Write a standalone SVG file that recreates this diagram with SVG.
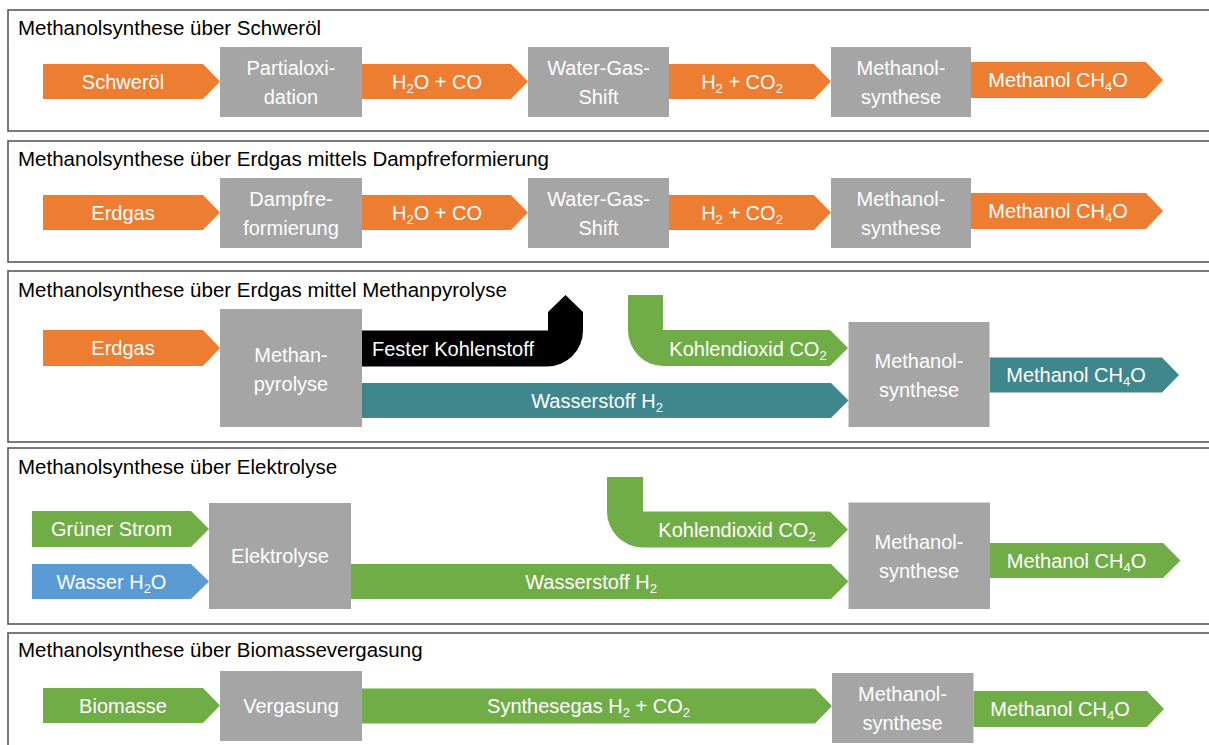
<svg xmlns="http://www.w3.org/2000/svg" width="1209" height="745" viewBox="0 0 1209 745">
<style>
.panel{fill:#fff;stroke:#595959;stroke-width:1.6}
.box{fill:#A5A5A5}
.or{fill:#ED7D31}
.gr{fill:#70AD47}
.te{fill:#40868D}
.bl{fill:#5B9BD5}
.bk{fill:#000}
.t{font-family:"Liberation Sans",Arial,sans-serif;font-size:20px;fill:#fff;text-anchor:middle}
.ttl{font-family:"Liberation Sans",Arial,sans-serif;font-size:20.5px;fill:#000}
.s{font-size:13px}
</style>
<rect width="1209" height="745" fill="#fff"/>
<g id="panels">
<g id="panel1"><rect class="panel" x="8" y="10" width="1210" height="121"/><text class="ttl" x="18" y="35">Methanolsynthese über Schweröl</text></g>
<g id="panel2"><rect class="panel" x="8" y="141" width="1210" height="121"/><text class="ttl" x="18" y="166">Methanolsynthese über Erdgas mittels Dampfreformierung</text></g>
<g id="panel3"><rect class="panel" x="8" y="271" width="1210" height="171"/><text class="ttl" x="18" y="297">Methanolsynthese über Erdgas mittel Methanpyrolyse</text></g>
<g id="panel4"><rect class="panel" x="8" y="448" width="1210" height="176"/><text class="ttl" x="18" y="474">Methanolsynthese über Elektrolyse</text></g>
<g id="panel5"><rect class="panel" x="8" y="633" width="1210" height="130"/><text class="ttl" x="18" y="657">Methanolsynthese über Biomassevergasung</text></g>
</g>
<g id="connectors">
<!-- Panel 1 -->
<g id="p1-schweroel"><path class="or" d="M43,64 H203 L220,81.5 L203,99 H43 Z"/><text class="t" x="123" y="88.5">Schweröl</text></g>
<g id="p1-h2o-co"><path class="or" d="M362,64 H511 L528,81.5 L511,99 H362 Z"/><text class="t" x="437" y="88.5">H<tspan class="s" dy="4">2</tspan><tspan dy="-4">O + CO</tspan></text></g>
<g id="p1-h2-co2"><path class="or" d="M669,64 H814 L831,81.5 L814,99 H669 Z"/><text class="t" x="742" y="88.5">H<tspan class="s" dy="4">2</tspan><tspan dy="-4"> + CO</tspan><tspan class="s" dy="4">2</tspan></text></g>
<g id="p1-methanol"><path class="or" d="M971,62 H1146 L1163,80 L1146,98 H971 Z"/><text class="t" x="1058" y="87">Methanol CH<tspan class="s" dy="4">4</tspan><tspan dy="-4">O</tspan></text></g>
<!-- Panel 2 -->
<g id="p2-erdgas"><path class="or" d="M43,195 H203 L220,212.5 L203,230 H43 Z"/><text class="t" x="123" y="219.5">Erdgas</text></g>
<g id="p2-h2o-co"><path class="or" d="M362,195 H511 L528,212.5 L511,230 H362 Z"/><text class="t" x="437" y="219.5">H<tspan class="s" dy="4">2</tspan><tspan dy="-4">O + CO</tspan></text></g>
<g id="p2-h2-co2"><path class="or" d="M669,195 H814 L831,212.5 L814,230 H669 Z"/><text class="t" x="742" y="219.5">H<tspan class="s" dy="4">2</tspan><tspan dy="-4"> + CO</tspan><tspan class="s" dy="4">2</tspan></text></g>
<g id="p2-methanol"><path class="or" d="M971,193 H1146 L1163,211 L1146,229 H971 Z"/><text class="t" x="1058" y="218">Methanol CH<tspan class="s" dy="4">4</tspan><tspan dy="-4">O</tspan></text></g>
<!-- Panel 3 -->
<g id="p3-erdgas"><path class="or" d="M43,330 H203 L220,348 L203,366 H43 Z"/><text class="t" x="123" y="355">Erdgas</text></g>
<g id="p3-kohlenstoff"><path class="bk" d="M362,330.5 H548 V312 L565.5,295 L583,312 V330.5 A36,36 0 0 1 547,366.5 H362 Z"/><text class="t" x="372" y="355.5" style="text-anchor:start">Fester Kohlenstoff</text></g>
<g id="p3-co2"><path class="gr" d="M628,295 H663 V330 H830 L848,348 L830,366 H663 A35,36 0 0 1 628,330 Z"/><text class="t" x="748" y="355.5">Kohlendioxid CO<tspan class="s" dy="4">2</tspan></text></g>
<g id="p3-h2"><path class="te" d="M362,383 H831 L848.5,400.5 L831,418 H362 Z"/><text class="t" x="597" y="407.5">Wasserstoff H<tspan class="s" dy="4">2</tspan></text></g>
<g id="p3-methanol"><path class="te" d="M989.5,357.5 H1162 L1179,375 L1162,392.5 H989.5 Z"/><text class="t" x="1076" y="382">Methanol CH<tspan class="s" dy="4">4</tspan><tspan dy="-4">O</tspan></text></g>
<!-- Panel 4 -->
<g id="p4-strom"><path class="gr" d="M32,511 H191 L209,529 L191,547 H32 Z"/><text class="t" x="111.5" y="536">Grüner Strom</text></g>
<g id="p4-wasser"><path class="bl" d="M32,564 H191 L209,581.5 L191,599 H32 Z"/><text class="t" x="111.5" y="588.5">Wasser H<tspan class="s" dy="4">2</tspan><tspan dy="-4">O</tspan></text></g>
<g id="p4-co2"><path class="gr" d="M607,477 H643 V511.5 H830 L848,529.5 L830,547.5 H643 A36,36 0 0 1 607,511.5 Z"/><text class="t" x="737" y="537">Kohlendioxid CO<tspan class="s" dy="4">2</tspan></text></g>
<g id="p4-h2"><path class="gr" d="M351,564 H831 L848.5,581.5 L831,599 H351 Z"/><text class="t" x="591" y="588.5">Wasserstoff H<tspan class="s" dy="4">2</tspan></text></g>
<g id="p4-methanol"><path class="gr" d="M990,543 H1163 L1180.5,560.5 L1163,578 H990 Z"/><text class="t" x="1076.5" y="567.5">Methanol CH<tspan class="s" dy="4">4</tspan><tspan dy="-4">O</tspan></text></g>
<!-- Panel 5 -->
<g id="p5-biomasse"><path class="gr" d="M43,688 H203 L220,705.5 L203,723 H43 Z"/><text class="t" x="123" y="712.5">Biomasse</text></g>
<g id="p5-synthesegas"><path class="gr" d="M362,688.5 H815 L832,706 L815,723.5 H362 Z"/><text class="t" x="588.5" y="713">Synthesegas H<tspan class="s" dy="4">2</tspan><tspan dy="-4"> + CO</tspan><tspan class="s" dy="4">2</tspan></text></g>
<g id="p5-methanol"><path class="gr" d="M973.5,691 H1147 L1164,709 L1147,727 H973.5 Z"/><text class="t" x="1060" y="716">Methanol CH<tspan class="s" dy="4">4</tspan><tspan dy="-4">O</tspan></text></g>
</g>
<g id="nodes">
<g id="p1-partialoxidation"><rect class="box" x="220" y="47" width="142" height="70"/><text class="t" x="291" y="74.5">Partialoxi-</text><text class="t" x="291" y="103.5">dation</text></g>
<g id="p1-watergasshift"><rect class="box" x="528" y="47" width="141" height="70"/><text class="t" x="598.5" y="74.5">Water-Gas-</text><text class="t" x="598.5" y="103.5">Shift</text></g>
<g id="p1-methanolsynthese"><rect class="box" x="831" y="47" width="140" height="70"/><text class="t" x="901" y="74.5">Methanol-</text><text class="t" x="901" y="103.5">synthese</text></g>
<g id="p2-dampfreformierung"><rect class="box" x="220" y="178" width="142" height="70"/><text class="t" x="291" y="205.5">Dampfre-</text><text class="t" x="291" y="234.5">formierung</text></g>
<g id="p2-watergasshift"><rect class="box" x="528" y="178" width="141" height="70"/><text class="t" x="598.5" y="205.5">Water-Gas-</text><text class="t" x="598.5" y="234.5">Shift</text></g>
<g id="p2-methanolsynthese"><rect class="box" x="831" y="178" width="140" height="70"/><text class="t" x="901" y="205.5">Methanol-</text><text class="t" x="901" y="234.5">synthese</text></g>
<g id="p3-methanpyrolyse"><rect class="box" x="220" y="309" width="142" height="118"/><text class="t" x="291" y="362">Methan-</text><text class="t" x="291" y="391">pyrolyse</text></g>
<g id="p3-methanolsynthese"><rect class="box" x="848.5" y="322" width="141" height="105"/><text class="t" x="919" y="368">Methanol-</text><text class="t" x="919" y="397">synthese</text></g>
<g id="p4-elektrolyse"><rect class="box" x="209" y="503" width="142" height="106"/><text class="t" x="280" y="563">Elektrolyse</text></g>
<g id="p4-methanolsynthese"><rect class="box" x="848.5" y="502.5" width="141.5" height="106.5"/><text class="t" x="919" y="549">Methanol-</text><text class="t" x="919" y="578">synthese</text></g>
<g id="p5-vergasung"><rect class="box" x="220" y="671" width="142" height="70"/><text class="t" x="291" y="713">Vergasung</text></g>
<g id="p5-methanolsynthese"><rect class="box" x="832" y="673" width="141.5" height="70"/><text class="t" x="902.5" y="701">Methanol-</text><text class="t" x="902.5" y="730">synthese</text></g>
</g>
</svg>
